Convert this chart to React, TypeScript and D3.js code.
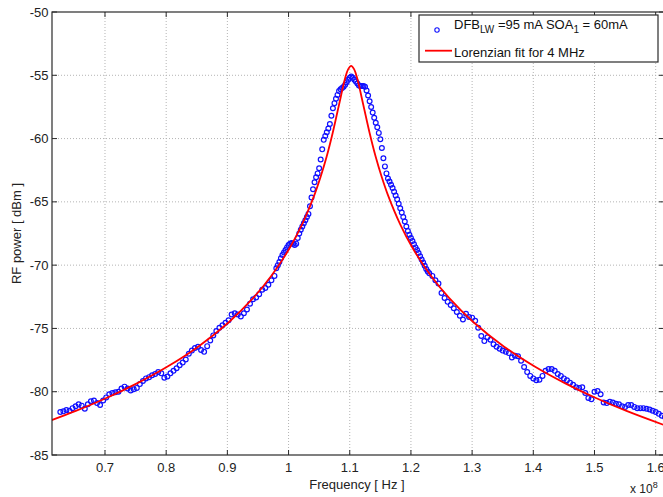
import React from "react";
import * as d3 from "d3";

// ---------- data ----------
// x tick values (in units of 1e8 Hz) and y tick values (dBm)
const xTicks = [0.7, 0.8, 0.9, 1.0, 1.1, 1.2, 1.3, 1.4, 1.5, 1.6];
const yTicks = [-85, -80, -75, -70, -65, -60, -55, -50];

// measured spectrum, sampled on uniform frequency grids (three segments)
const measAStart = 0.627;
const measAStep = 0.005;
const measAPower = [
  -81.6, -81.55, -81.45, -81.5, -81.3, -81.15, -81.0, -81.1, -81.35, -81.0,
  -80.75, -80.7, -80.9, -81.05, -80.7, -80.45, -80.2, -80.1, -80.05, -80.0,
  -79.75, -79.6, -79.75, -79.9, -79.8, -79.7, -79.4, -79.15, -78.95, -78.85,
  -78.7, -78.6, -78.45, -78.55, -78.9, -78.8, -78.55, -78.35, -78.15, -77.9,
  -77.7, -77.45, -77.0, -76.75, -76.55, -76.45, -76.7, -76.85, -76.4, -75.95,
  -75.55, -75.2, -74.95, -74.75, -74.55, -74.35, -73.9, -73.8, -73.9, -74.05,
  -73.8, -73.5, -73.05, -72.7, -72.55, -72.3, -71.95, -71.8, -71.55, -71.2,
  -70.85,
];

const measBStart = 0.98;
const measBStep = 0.0025;
const measBPower = [
  -70.25, -70.0, -69.75, -69.45, -69.2, -69.0, -68.8, -68.6, -68.4, -68.3,
  -68.25, -68.3, -68.4, -68.3, -67.85, -67.5, -67.2, -66.95, -66.7, -66.45,
  -66.2, -65.95, -65.35, -64.65, -64.0, -63.45, -63.05, -62.75, -62.35, -61.65,
  -60.85, -60.1, -59.8, -59.5, -59.2, -58.85, -58.2, -57.6, -57.2, -56.85,
  -56.55, -56.25, -56.1, -56.0, -55.9, -55.75, -55.55, -55.35, -55.2, -55.1,
  -55.2, -55.35, -55.5, -55.65, -55.8, -55.85, -55.85, -55.85, -55.9, -56.2,
  -56.6, -57.05, -57.5, -57.95, -58.35, -58.75, -59.1, -59.55, -60.05, -60.75,
  -61.55, -62.2, -62.75, -63.15, -63.4, -63.65, -63.9, -64.2, -64.5, -64.8,
  -65.15, -65.5, -65.85, -66.2, -66.55, -66.95, -67.3, -67.6, -67.85, -68.1,
  -68.35, -68.6, -68.8, -69.05, -69.3, -69.55, -69.8, -70.05, -70.3, -70.5,
  -70.65,
];

const measCStart = 1.235;
const measCStep = 0.005;
const measCPower = [
  -70.85, -71.2, -71.45, -72.2, -72.6, -72.9, -73.15, -73.4, -73.7, -74.0,
  -74.3, -73.85, -74.1, -74.15, -74.4, -74.95, -75.6, -76.0, -75.7, -75.9,
  -76.25, -76.45, -76.6, -76.75, -76.85, -76.95, -77.3, -77.15, -77.2, -77.55,
  -78.05, -78.45, -78.75, -78.95, -79.1, -79.05, -78.75, -78.35, -78.2, -78.2,
  -78.35, -78.6, -78.75, -78.95, -79.1, -79.3, -79.45, -79.65, -79.7, -79.65,
  -80.1, -80.5, -80.6, -80.0, -79.95, -80.2, -80.85, -80.9, -80.8, -80.85,
  -80.95, -81.0, -81.15, -81.2, -81.05, -81.05, -81.2, -81.3, -81.3, -81.3,
  -81.35, -81.4, -81.5, -81.6, -81.75, -81.9, -82.0,
];

// Lorentzian fit curve (read points)
const fitFreq = [
  0.6123, 0.6523, 0.7023, 0.7523, 0.8023, 0.8523, 0.9023, 0.9423, 0.9723,
  1.0023, 1.0223, 1.0423, 1.0523, 1.0623, 1.0723, 1.0823, 1.0923, 1.0973,
  1.1023, 1.1073, 1.1123, 1.1223, 1.1323, 1.1423, 1.1523, 1.1623, 1.1823,
  1.2023, 1.2323, 1.2623, 1.3023, 1.3523, 1.4023, 1.4523, 1.5023, 1.5523,
  1.6123,
];
const fitPower = [
  -82.26, -81.52, -80.5, -79.34, -78.01, -76.44, -74.51, -72.59, -70.82,
  -68.61, -66.76, -64.45, -63.04, -61.42, -59.52, -57.37, -55.26, -54.53,
  -54.25, -54.53, -55.26, -57.37, -59.52, -61.42, -63.04, -64.45, -66.76,
  -68.61, -70.82, -72.59, -74.51, -76.44, -78.01, -79.34, -80.5, -81.52,
  -82.61,
];

const FONT = '"Liberation Sans", Arial, Helvetica, sans-serif';

export default function App() {
  const W = 663;
  const H = 497;
  const left = 52;
  const right = 664;
  const top = 12;
  const bottom = 455;

  const x = d3.scaleLinear().domain([0.6134, 1.6136]).range([left, right]);
  const y = d3.scaleLinear().domain([-85, -50]).range([bottom, top]);

  const segs = [
    { start: measAStart, step: measAStep, power: measAPower },
    { start: measBStart, step: measBStep, power: measBPower },
    { start: measCStart, step: measCStep, power: measCPower },
  ];
  const meas = segs.flatMap((s) =>
    s.power.map((p, i) => ({ f: s.start + i * s.step, p }))
  );
  const fit = fitFreq.map((f, i) => ({ f, p: fitPower[i] }));

  const line = d3
    .line<{ f: number; p: number }>()
    .x((d) => x(d.f))
    .y((d) => y(d.p))
    .curve(d3.curveCatmullRom.alpha(0.5));

  const gridColor = "#b4b4b4";
  const axisColor = "#2a2a2a";
  const tickLen = 5;
  const fmt = (t: number) => String(+t.toFixed(1));
  const blue = "#1010ff";

  return (
    <svg
      width={W}
      height={H}
      style={{ position: "absolute", left: 0, top: 0, background: "#fff" }}
      fontFamily={FONT}
    >
      <defs>
        <clipPath id="plotClip">
          <rect x={left} y={top} width={right - left} height={bottom - top} />
        </clipPath>
      </defs>
      <rect x={0} y={0} width={W} height={H} fill="#fff" />

      {/* grid */}
      <g stroke={gridColor} strokeWidth={1} strokeDasharray="1,2">
        {xTicks.map((t) => (
          <line key={"gx" + t} x1={x(t)} x2={x(t)} y1={top} y2={bottom} />
        ))}
        {yTicks
          .filter((t) => t !== -85 && t !== -50)
          .map((t) => (
            <line key={"gy" + t} x1={left} x2={right} y1={y(t)} y2={y(t)} />
          ))}
      </g>

      {/* data */}
      <g clipPath="url(#plotClip)">
        {meas.map((d, i) => (
          <circle
            key={i}
            cx={x(d.f)}
            cy={y(d.p)}
            r={2.4}
            fill="none"
            stroke={blue}
            strokeWidth={1.2}
          />
        ))}
        <path d={line(fit) || ""} fill="none" stroke="#ff0000" strokeWidth={1.8} />
      </g>

      {/* axes box and ticks */}
      <rect
        x={left}
        y={top}
        width={right - left}
        height={bottom - top}
        fill="none"
        stroke={axisColor}
        strokeWidth={1.2}
      />
      <g stroke={axisColor} strokeWidth={1}>
        {xTicks.map((t) => (
          <g key={"tx" + t}>
            <line x1={x(t)} x2={x(t)} y1={bottom} y2={bottom - tickLen} />
            <line x1={x(t)} x2={x(t)} y1={top} y2={top + tickLen} />
          </g>
        ))}
        {yTicks.map((t) => (
          <g key={"ty" + t}>
            <line x1={left} x2={left + tickLen} y1={y(t)} y2={y(t)} />
            <line x1={right} x2={right - tickLen} y1={y(t)} y2={y(t)} />
          </g>
        ))}
      </g>

      {/* tick labels */}
      <g fontSize={13} fill="#222">
        {xTicks.map((t) => (
          <text key={"lx" + t} x={x(t)} y={471.5} textAnchor="middle">
            {fmt(t)}
          </text>
        ))}
        {yTicks.map((t) => (
          <text
            key={"ly" + t}
            x={48.5}
            y={y(t)}
            textAnchor="end"
            dominantBaseline="central"
          >
            {t}
          </text>
        ))}
      </g>

      {/* axis labels */}
      <text x={357} y={489} textAnchor="middle" fontSize={13} fill="#222">
        Frequency [ Hz ]
      </text>
      <text
        transform={`translate(21, ${(top + bottom) / 2}) rotate(-90)`}
        textAnchor="middle"
        fontSize={13}
        fill="#222"
      >
        RF power [ dBm ]
      </text>
      <text x={630} y={492.5} fontSize={12} fill="#222">
        x 10
        <tspan dy={-5} fontSize={9}>
          8
        </tspan>
      </text>

      {/* legend */}
      <g>
        <rect
          x={419}
          y={15}
          width={239}
          height={47}
          fill="#fff"
          stroke={axisColor}
          strokeWidth={1.2}
        />
        <circle cx={437} cy={30} r={2.2} fill="none" stroke={blue} strokeWidth={1.1} />
        <text x={454} y={28.5} fontSize={13} fill="#111">
          DFB
          <tspan dy={4} fontSize={10}>
            LW
          </tspan>
          <tspan dy={-4}> =95 mA SOA</tspan>
          <tspan dy={4} fontSize={10}>
            1
          </tspan>
          <tspan dy={-4}> = 60mA</tspan>
        </text>
        <line x1={425} x2={452} y1={50.7} y2={50.7} stroke="#ff0000" strokeWidth={1.8} />
        <text x={454} y={56.5} fontSize={13} fill="#111">
          Lorenzian fit for 4 MHz
        </text>
      </g>
    </svg>
  );
}
